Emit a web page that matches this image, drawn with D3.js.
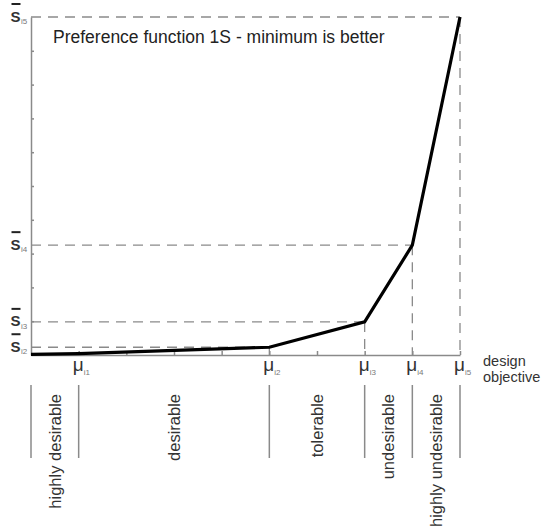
<!DOCTYPE html>
<html>
<head>
<meta charset="utf-8">
<script src="https://cdn.jsdelivr.net/npm/d3@7"></script>
<style>
  body { margin: 0; background: #fff; }
  svg { display: block; font-family: "Liberation Sans", Arial, sans-serif; }
</style>
</head>
<body>
<svg id="chart" width="544" height="526"></svg>
<script>
// design objective breakpoints (x units) and their subscripts
const muValues = [1, 5, 7, 8, 9];
const muLabels = ["i1", "i2", "i3", "i4", "i5"];

// preference levels at mu2..mu5
const sValues = [0.23, 0.98, 3.25, 10];
const sLabels = ["i2", "i3", "i4", "i5"];

// preference curve
const curveX = [0, 1, 5, 7, 8, 9];
const curveY = [0.02, 0.04, 0.23, 0.98, 3.25, 10];

const ranges = ["highly desirable", "desirable", "tolerable", "undesirable", "highly undesirable"];

const TITLE = "Preference function 1S - minimum is better";

const GRAY = "#8a8a8a";
const DASH = "10,7";

const svg = d3.select("#chart");

const x = d3.scaleLinear().domain([0, 9]).range([31, 460]);
const y = d3.scaleLinear().domain([0, 10]).range([355, 17]);

// dashed guides: horizontal from y axis to the point, vertical down to x axis
const guides = svg.append("g")
    .attr("stroke", GRAY)
    .attr("stroke-width", 1.3)
    .attr("stroke-dasharray", DASH)
    .attr("fill", "none");
sValues.forEach((s, i) => {
    const mu = muValues[i + 1];
    guides.append("line")
        .attr("x1", x(0)).attr("x2", x(mu))
        .attr("y1", y(s)).attr("y2", y(s));
    guides.append("line")
        .attr("x1", x(mu)).attr("x2", x(mu))
        .attr("y1", y(s)).attr("y2", y(0));
});

// axes with small inward ticks
const xAxis = d3.axisBottom(x)
    .tickValues(d3.range(1, 10))
    .tickSizeInner(-4)
    .tickSizeOuter(0)
    .tickFormat("");
const yAxis = d3.axisLeft(y)
    .tickValues(d3.range(1, 10))
    .tickSizeInner(-3)
    .tickSizeOuter(0)
    .tickFormat("");

svg.append("g")
    .attr("transform", `translate(0,${y(0)})`)
    .call(xAxis)
    .call(g => g.selectAll("path, line").attr("stroke", GRAY).attr("stroke-width", 1.5));
svg.append("g")
    .attr("transform", `translate(${x(0)},0)`)
    .call(yAxis)
    .call(g => g.selectAll("path, line").attr("stroke", GRAY).attr("stroke-width", 1.5));

// preference curve
const line = d3.line()
    .x((d, i) => x(curveX[i]))
    .y(d => y(d));
svg.append("path")
    .datum(curveY)
    .attr("d", line)
    .attr("fill", "none")
    .attr("stroke", "#000")
    .attr("stroke-width", 3.2)
    .attr("stroke-linejoin", "miter");

// title
svg.append("text")
    .attr("x", 53)
    .attr("y", 43)
    .attr("font-size", 17.5)
    .attr("fill", "#222")
    .text(TITLE);

// S-bar labels on the left
sValues.forEach((s, i) => {
    const yy = y(s);
    const g = svg.append("g");
    g.append("line")
        .attr("x1", 11.5).attr("x2", 20.5)
        .attr("y1", yy - 13).attr("y2", yy - 13)
        .attr("stroke", "#222")
        .attr("stroke-width", 2);
    g.append("text")
        .attr("x", 10.5)
        .attr("y", yy + 4.5)
        .attr("font-size", 15)
        .attr("font-weight", "bold")
        .attr("fill", "#333")
        .text("S");
    g.append("text")
        .attr("x", 21)
        .attr("y", yy + 7)
        .attr("font-size", 8)
        .attr("fill", "#777")
        .text(sLabels[i]);
});

// mu labels under the x axis
muValues.forEach((m, i) => {
    const g = svg.append("g");
    g.append("text")
        .attr("x", x(m) - 6)
        .attr("y", 371)
        .attr("font-size", 19)
        .attr("fill", "#333")
        .text("μ");
    g.append("text")
        .attr("x", x(m) + 5)
        .attr("y", 375)
        .attr("font-size", 8)
        .attr("fill", "#777")
        .text(muLabels[i]);
});

svg.append("text")
    .attr("font-size", 14.5)
    .attr("fill", "#333")
    .selectAll("tspan")
    .data(["design", "objective"])
    .join("tspan")
    .attr("x", 483)
    .attr("y", (d, i) => 366 + i * 16)
    .text(d => d);

// range separators and labels
const bounds = [0, ...muValues];
svg.append("g")
    .selectAll("line")
    .data(bounds)
    .join("line")
    .attr("x1", d => x(d)).attr("x2", d => x(d))
    .attr("y1", 385).attr("y2", 458)
    .attr("stroke", GRAY)
    .attr("stroke-width", 1.5);

svg.append("g")
    .selectAll("text")
    .data(ranges)
    .join("text")
    .attr("transform", (d, i) => {
        const cx = (x(bounds[i]) + x(bounds[i + 1])) / 2;
        return `translate(${cx},394) rotate(-90)`;
    })
    .attr("text-anchor", "end")
    .attr("dy", "0.35em")
    .attr("font-size", 16.5)
    .attr("fill", "#333")
    .text(d => d);
</script>
</body>
</html>
